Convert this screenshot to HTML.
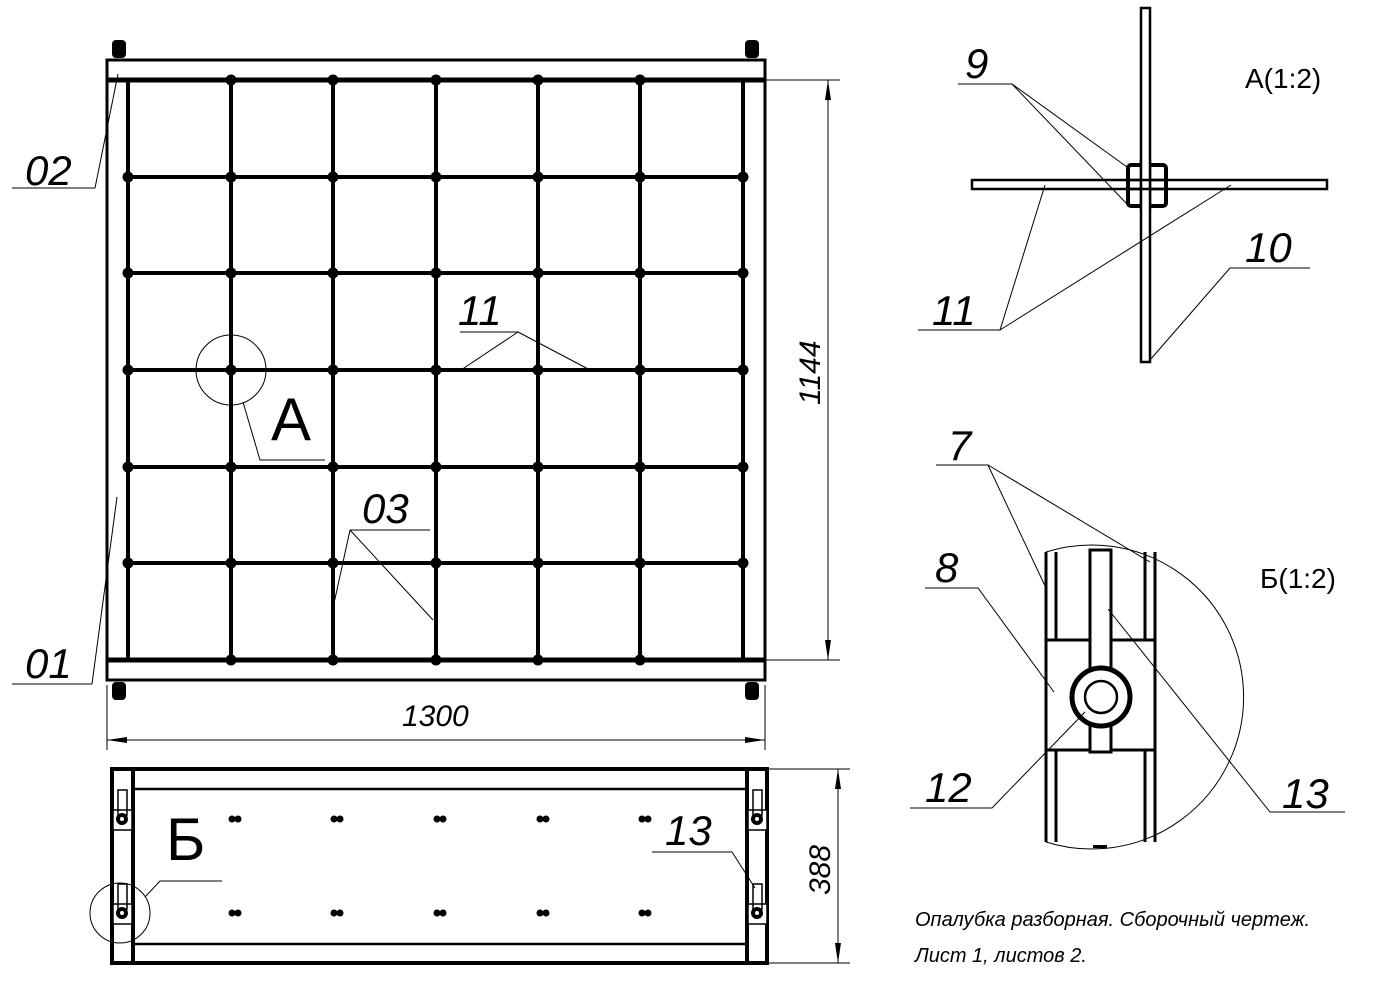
<!DOCTYPE html>
<html><head><meta charset="utf-8"><style>
html,body{margin:0;padding:0;background:#fff}
svg{display:block}
text{font-family:"Liberation Sans Narrow","Liberation Sans","DejaVu Sans",sans-serif;font-style:italic;fill:#000}
</style></head><body>
<svg width="1389" height="993" viewBox="0 0 1389 993" xmlns="http://www.w3.org/2000/svg">
<defs>
<marker id="ar" viewBox="0 0 20 6" refX="20" refY="3" markerWidth="20" markerHeight="6" orient="auto-start-reverse" markerUnits="userSpaceOnUse"><path d="M0,0 L20,3 L0,6 Z" fill="#000"/></marker>
</defs>
<g fill="none" stroke="#000">
<rect x="107" y="60" width="658" height="620" stroke-width="3"/>
<line x1="107" y1="80" x2="765" y2="80" stroke-width="5"/>
<line x1="107" y1="660" x2="765" y2="660" stroke-width="5"/>
<line x1="128" y1="80" x2="128" y2="660" stroke-width="4"/>
<line x1="743" y1="80" x2="743" y2="660" stroke-width="4"/>
<g stroke-width="4">
<line x1="231" y1="80" x2="231" y2="660"/><line x1="333" y1="80" x2="333" y2="660"/><line x1="436" y1="80" x2="436" y2="660"/><line x1="538" y1="80" x2="538" y2="660"/><line x1="640" y1="80" x2="640" y2="660"/>
<line x1="128" y1="177" x2="743" y2="177"/><line x1="128" y1="273" x2="743" y2="273"/><line x1="128" y1="370" x2="743" y2="370"/><line x1="128" y1="467" x2="743" y2="467"/><line x1="128" y1="563" x2="743" y2="563"/>
</g>
</g>
<g fill="#000">
<circle cx="231" cy="80" r="5.5"/><circle cx="333" cy="80" r="5.5"/><circle cx="436" cy="80" r="5.5"/><circle cx="538" cy="80" r="5.5"/><circle cx="640" cy="80" r="5.5"/>
<circle cx="231" cy="660" r="5.5"/><circle cx="333" cy="660" r="5.5"/><circle cx="436" cy="660" r="5.5"/><circle cx="538" cy="660" r="5.5"/><circle cx="640" cy="660" r="5.5"/>
<circle cx="128" cy="177" r="5.5"/><circle cx="231" cy="177" r="5.5"/><circle cx="333" cy="177" r="5.5"/><circle cx="436" cy="177" r="5.5"/><circle cx="538" cy="177" r="5.5"/><circle cx="640" cy="177" r="5.5"/><circle cx="743" cy="177" r="5.5"/>
<circle cx="128" cy="273" r="5.5"/><circle cx="231" cy="273" r="5.5"/><circle cx="333" cy="273" r="5.5"/><circle cx="436" cy="273" r="5.5"/><circle cx="538" cy="273" r="5.5"/><circle cx="640" cy="273" r="5.5"/><circle cx="743" cy="273" r="5.5"/>
<circle cx="128" cy="370" r="5.5"/><circle cx="231" cy="370" r="5.5"/><circle cx="333" cy="370" r="5.5"/><circle cx="436" cy="370" r="5.5"/><circle cx="538" cy="370" r="5.5"/><circle cx="640" cy="370" r="5.5"/><circle cx="743" cy="370" r="5.5"/>
<circle cx="128" cy="467" r="5.5"/><circle cx="231" cy="467" r="5.5"/><circle cx="333" cy="467" r="5.5"/><circle cx="436" cy="467" r="5.5"/><circle cx="538" cy="467" r="5.5"/><circle cx="640" cy="467" r="5.5"/><circle cx="743" cy="467" r="5.5"/>
<circle cx="128" cy="563" r="5.5"/><circle cx="231" cy="563" r="5.5"/><circle cx="333" cy="563" r="5.5"/><circle cx="436" cy="563" r="5.5"/><circle cx="538" cy="563" r="5.5"/><circle cx="640" cy="563" r="5.5"/><circle cx="743" cy="563" r="5.5"/>
</g>
<g fill="#000">
<rect x="112" y="40" width="14" height="18" rx="4"/><rect x="745" y="40" width="14" height="18" rx="4"/>
<rect x="112" y="682" width="14" height="18" rx="4"/><rect x="745" y="682" width="14" height="18" rx="4"/>
</g>
<g fill="none" stroke="#000" stroke-width="1">
<line x1="12" y1="188" x2="95" y2="188"/><line x1="95" y1="188" x2="118" y2="74"/>
<line x1="12" y1="684" x2="92" y2="684"/><line x1="92" y1="684" x2="117" y2="497"/>
<circle cx="231" cy="370" r="35"/>
<polyline points="243,402 260,460 325,460"/>
<polyline points="460,332 518,332"/><line x1="518" y1="332" x2="461" y2="370"/><line x1="518" y1="332" x2="590" y2="370"/>
<polyline points="350,530 430,530"/><line x1="350" y1="530" x2="333" y2="608"/><line x1="350" y1="530" x2="433" y2="620"/>
<line x1="765" y1="80" x2="840" y2="80"/><line x1="765" y1="660" x2="840" y2="660"/>
<line x1="828" y1="80" x2="828" y2="660" marker-start="url(#ar)" marker-end="url(#ar)"/>
<line x1="107" y1="685" x2="107" y2="750"/><line x1="765" y1="685" x2="765" y2="750"/>
<line x1="107" y1="740" x2="765" y2="740" marker-start="url(#ar)" marker-end="url(#ar)"/>
<line x1="767" y1="769" x2="850" y2="769"/><line x1="767" y1="963" x2="850" y2="963"/>
<line x1="838" y1="769" x2="838" y2="963" marker-start="url(#ar)" marker-end="url(#ar)"/>
</g>
<g fill="none" stroke="#000">
<rect x="112" y="769" width="655" height="194" stroke-width="4"/>
<line x1="133" y1="789" x2="747" y2="789" stroke-width="2.5"/>
<line x1="133" y1="944" x2="747" y2="944" stroke-width="2.5"/>
<line x1="133" y1="769" x2="133" y2="963" stroke-width="4"/>
<line x1="747" y1="769" x2="747" y2="963" stroke-width="4"/>
<g stroke-width="1.5">
<rect x="113" y="810" width="19" height="20" fill="#fff"/><rect x="113" y="904" width="19" height="20" fill="#fff"/>
<rect x="748" y="810" width="19" height="20" fill="#fff"/><rect x="748" y="904" width="19" height="20" fill="#fff"/>
<rect x="118" y="790" width="9" height="25"/><rect x="118" y="884" width="9" height="25"/>
<rect x="753" y="790" width="9" height="25"/><rect x="753" y="884" width="9" height="25"/>
</g>
</g>
<g fill="#000">
<circle cx="122" cy="819" r="6"/><circle cx="122" cy="913" r="6"/><circle cx="757" cy="819" r="6"/><circle cx="757" cy="913" r="6"/>
</g>
<g fill="#fff"><circle cx="122" cy="819" r="2"/><circle cx="122" cy="913" r="2"/><circle cx="757" cy="819" r="2"/><circle cx="757" cy="913" r="2"/></g>
<g fill="#000">
<circle cx="232" cy="819" r="3.5"/><circle cx="238" cy="819" r="3.5"/><circle cx="334" cy="819" r="3.5"/><circle cx="340" cy="819" r="3.5"/><circle cx="437" cy="819" r="3.5"/><circle cx="443" cy="819" r="3.5"/><circle cx="540" cy="819" r="3.5"/><circle cx="546" cy="819" r="3.5"/><circle cx="642" cy="819" r="3.5"/><circle cx="648" cy="819" r="3.5"/>
<circle cx="232" cy="913" r="3.5"/><circle cx="238" cy="913" r="3.5"/><circle cx="334" cy="913" r="3.5"/><circle cx="340" cy="913" r="3.5"/><circle cx="437" cy="913" r="3.5"/><circle cx="443" cy="913" r="3.5"/><circle cx="540" cy="913" r="3.5"/><circle cx="546" cy="913" r="3.5"/><circle cx="642" cy="913" r="3.5"/><circle cx="648" cy="913" r="3.5"/>
</g>
<g fill="none" stroke="#000" stroke-width="1">
<circle cx="120" cy="913" r="30"/>
<polyline points="145,897 160,881 222,881"/>
<polyline points="652,852 732,852 755,888"/>
</g>
<g fill="none" stroke="#000">
<rect x="1141" y="8" width="9" height="354" stroke-width="2.5"/>
<rect x="972" y="180" width="355" height="9" stroke-width="2.5"/>
<rect x="1128" y="165" width="38" height="41" rx="3" stroke-width="4"/>
<rect x="1141" y="160" width="9" height="50" fill="#fff" stroke="none"/>
<line x1="1141" y1="160" x2="1141" y2="210" stroke-width="2.5"/><line x1="1150" y1="160" x2="1150" y2="210" stroke-width="2.5"/>
<line x1="1128" y1="180" x2="1166" y2="180" stroke-width="2.5"/><line x1="1128" y1="189" x2="1166" y2="189" stroke-width="2.5"/>
<g stroke-width="1">
<polyline points="958,84 1012,84 1127,167"/><line x1="1012" y1="84" x2="1127" y2="204"/>
<polyline points="918,330 1000,330 1045,185"/><line x1="1000" y1="330" x2="1231" y2="185"/>
<polyline points="1310,268 1230,268 1150,360"/>
</g>
</g>
<g fill="none" stroke="#000">
<path d="M1046,552 A152,152 0 1 1 1046,842" stroke-width="1"/>
<g stroke-width="3">
<line x1="1046" y1="552" x2="1046" y2="842"/><line x1="1155" y1="552" x2="1155" y2="842"/>
<line x1="1056" y1="552" x2="1056" y2="640"/><line x1="1145" y1="552" x2="1145" y2="640"/>
<line x1="1056" y1="750" x2="1056" y2="842"/><line x1="1145" y1="750" x2="1145" y2="842"/>
<rect x="1046" y="640" width="109" height="110"/>
<rect x="1090" y="550" width="21" height="202" fill="#fff"/>
</g>
<circle cx="1101" cy="697" r="29" stroke-width="5" fill="#fff"/>
<circle cx="1101" cy="697" r="16" stroke-width="2.5"/>
<g stroke-width="1">
<polyline points="936,465 988,465 1046,588"/><line x1="988" y1="465" x2="1150" y2="562"/>
<polyline points="925,588 978,588 1054,692"/>
<polyline points="910,808 992,808 1085,712"/>
<polyline points="1345,812 1270,812 1108,609"/>
</g>
</g>
<rect x="1093" y="845" width="14" height="3" fill="#000"/>
<g font-size="42">
<text x="25" y="185">02</text>
<text x="25" y="678">01</text>
<text x="458" y="325">11</text>
<text x="362" y="523">03</text>
<text x="965" y="78">9</text>
<text x="932" y="325">11</text>
<text x="1245" y="262">10</text>
<text x="948" y="460">7</text>
<text x="935" y="582">8</text>
<text x="925" y="802">12</text>
<text x="1282" y="808">13</text>
<text x="665" y="845">13</text>
</g>
<text x="271" y="440" font-size="60" style="font-style:normal">A</text>
<text x="166" y="860" font-size="60" style="font-style:normal">Б</text>
<text x="1245" y="88" font-size="28" style="font-style:normal">A(1:2)</text>
<text x="1260" y="588" font-size="28" style="font-style:normal">Б(1:2)</text>
<text x="402" y="726" font-size="30">1300</text>
<text transform="translate(820,405) rotate(-90)" font-size="30">1144</text>
<text transform="translate(830,895) rotate(-90)" font-size="30">388</text>
<text x="915" y="926" font-size="20">Опалубка разборная. Сборочный чертеж.</text>
<text x="915" y="962" font-size="20">Лист 1, листов 2.</text>
</svg>
</body></html>
